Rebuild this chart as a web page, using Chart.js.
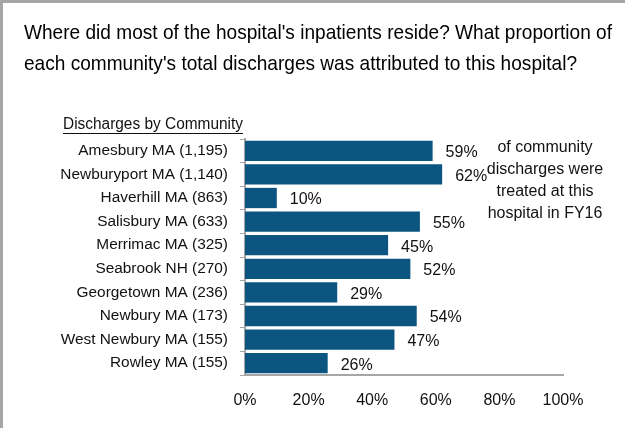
<!DOCTYPE html>
<html lang="en">
<head>
    <meta charset="UTF-8">
    <title>Discharges by Community</title>
    <script src="https://cdn.jsdelivr.net/npm/chart.js"></script>
    <style>
        html, body { margin: 0; padding: 0; background: #fff; }
        #wrap { position: relative; width: 635px; height: 439px; }
    </style>
</head>
<body>
<div id="wrap"><canvas id="grafico" width="635" height="439"></canvas></div>
<script>
    // Datos
    const comunidades = ['Amesbury MA (1,195)', 'Newburyport MA (1,140)', 'Haverhill MA (863)',
        'Salisbury MA (633)', 'Merrimac MA (325)', 'Seabrook NH (270)', 'Georgetown MA (236)',
        'Newbury MA (173)', 'West Newbury MA (155)', 'Rowley MA (155)'];
    const porcentajes = [59, 62, 10, 55, 45, 52, 29, 54, 47, 26];
    const ticksX = [0, 20, 40, 60, 80, 100];
    const titulo = ["Where did most of the hospital's inpatients reside? What proportion of",
        "each community's total discharges was attributed to this hospital?"];
    const subtitulo = 'Discharges by Community';
    const nota = ['of community', 'discharges were', 'treated at this', 'hospital in FY16'];

    const FONT = '"Liberation Sans", Arial, sans-serif';

    // texto comprimido horizontalmente (la fuente original es mas estrecha)
    function textoEstrecho(ctx, t, x, y, sx) {
        ctx.save();
        ctx.translate(x, y);
        ctx.scale(sx, 1);
        ctx.fillText(t, 0, 0);
        ctx.restore();
    }

    // textos extra dibujados sobre el canvas
    const textos = {
        id: 'textos',
        afterDraw(chart) {
            const ctx = chart.ctx;
            const x = chart.scales.x, y = chart.scales.y;
            ctx.save();
            // borde gris
            ctx.fillStyle = '#a6a6a6';
            ctx.fillRect(0, 0, 625, 3);
            ctx.fillRect(0, 0, 3, 428);

            ctx.fillStyle = '#000';
            ctx.textBaseline = 'middle';
            ctx.textAlign = 'left';
            ctx.font = '21px ' + FONT;
            const sx = 588 / ctx.measureText(titulo[0]).width;
            textoEstrecho(ctx, titulo[0], 24, 33, sx);
            textoEstrecho(ctx, titulo[1], 24, 64, sx);

            ctx.font = '16px ' + FONT;
            ctx.fillStyle = '#111';
            const w = ctx.measureText(subtitulo).width;
            const s2 = 180 / w;
            textoEstrecho(ctx, subtitulo, 63, 125, s2);
            ctx.fillRect(63, 133, 180, 1);

            // etiquetas de valor
            porcentajes.forEach((v, i) => {
                ctx.fillText(v + '%', x.getPixelForValue(v) + 13, y.getPixelForValue(i) + 2);
            });

            ctx.textAlign = 'center';
            nota.forEach((t, i) => ctx.fillText(t, 545, 148 + i * 22));
            ctx.restore();
        }
    };

    const ctx = document.getElementById('grafico').getContext('2d');
    const grafico = new Chart(ctx, {
        type: 'bar',
        data: {
            labels: comunidades,
            datasets: [{
                data: porcentajes,
                backgroundColor: '#0b5580',
                barPercentage: 0.86,
                categoryPercentage: 1
            }]
        },
        options: {
            indexAxis: 'y',
            responsive: false,
            animation: false,
            layout: { padding: { top: 139, right: 72, left: 0, bottom: 0 } },
            plugins: { legend: { display: false }, tooltip: { enabled: false } },
            scales: {
                x: {
                    min: 0, max: 100,
                    afterFit: s => { s.height = 64; },
                    afterBuildTicks: s => { s.ticks = ticksX.map(v => ({ value: v })); },
                    grid: { display: false, drawTicks: false },
                    border: { display: true, color: '#a6a6a6', width: 2 },
                    ticks: {
                        padding: 16,
                        color: '#111',
                        font: { size: 16, family: FONT },
                        callback: v => v + '%'
                    }
                },
                y: {
                    afterFit: s => { s.width = 245; },
                    grid: { drawOnChartArea: false, tickLength: 5, color: '#a6a6a6', offset: true },
                    border: { display: true, color: '#a6a6a6', width: 2 },
                    ticks: { padding: 12, color: '#111', font: { size: 15.4, family: FONT } }
                }
            }
        },
        plugins: [textos]
    });
</script>
</body>
</html>
